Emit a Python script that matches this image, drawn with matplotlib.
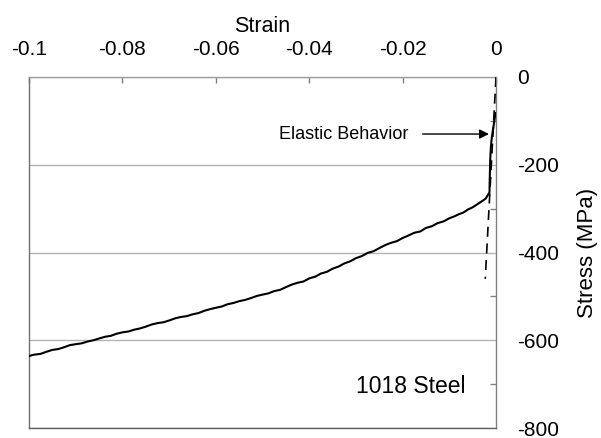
import matplotlib
matplotlib.use("Agg")
import matplotlib.pyplot as plt

plt.rcParams['font.family'] = ['Liberation Sans', 'DejaVu Sans']

strain = [-0.1000, -0.0990, -0.0975, -0.0962, -0.0950, -0.0937, -0.0925, -0.0912,
          -0.0900, -0.0887, -0.0875, -0.0862, -0.0850, -0.0837, -0.0825, -0.0812,
          -0.0800, -0.0787, -0.0775, -0.0762, -0.0750, -0.0737, -0.0725, -0.0712,
          -0.0700, -0.0687, -0.0675, -0.0662, -0.0650, -0.0637, -0.0625, -0.0612,
          -0.0600, -0.0587, -0.0575, -0.0562, -0.0550, -0.0537, -0.0525, -0.0512,
          -0.0500, -0.0487, -0.0475, -0.0462, -0.0450, -0.0437, -0.0425, -0.0412,
          -0.0400, -0.0387, -0.0375, -0.0362, -0.0350, -0.0337, -0.0325, -0.0312,
          -0.0300, -0.0287, -0.0275, -0.0262, -0.0250, -0.0237, -0.0225, -0.0212,
          -0.0200, -0.0187, -0.0175, -0.0162, -0.0150, -0.0137, -0.0125, -0.0112,
          -0.0100, -0.0090, -0.0080, -0.0070, -0.0060, -0.0050, -0.0040, -0.0030,
          -0.0022, -0.0014, -0.0013, -0.00125, -0.0011, -0.0009, -0.0005, -0.0001]
stress = [-636, -633, -631, -626, -622, -620, -616, -611,
          -609, -607, -603, -600, -596, -592, -590, -585,
          -582, -580, -576, -573, -569, -564, -561, -559,
          -555, -550, -547, -545, -541, -538, -533, -529,
          -526, -523, -518, -515, -511, -508, -504, -499,
          -496, -493, -488, -485, -479, -473, -469, -466,
          -459, -455, -448, -444, -437, -432, -425, -420,
          -413, -408, -401, -397, -390, -383, -378, -374,
          -367, -361, -355, -352, -344, -340, -333, -329,
          -322, -318, -313, -309, -302, -297, -290, -283,
          -277, -263, -215, -191, -160, -138, -110,
          -82]

# Elastic modulus line (200 GPa)
elastic_strain = [0.0, -0.0023]
elastic_stress = [0, -460]

x_ticks = [-0.1, -0.08, -0.06, -0.04, -0.02, 0]
x_tick_labels = ['-0.1', '-0.08', '-0.06', '-0.04', '-0.02', '0']
y_ticks = [0, -200, -400, -600, -800]
y_tick_labels = ['0', '-200', '-400', '-600', '-800']
y_minor = [-100, -300, -500, -700]

W, H = 601, 438
fig = plt.figure(figsize=(W / 100, H / 100), dpi=100)
L, R, T, B = 29, 496, 77, 428
ax = fig.add_axes([L / W, 1 - B / H, (R - L) / W, (B - T) / H])

ax.set_xlim(-0.1, 0)
ax.set_ylim(-800, 0)

ax.yaxis.grid(True, color='#b4b4b4', linewidth=1.0)
ax.set_axisbelow(True)

ax.plot(strain, stress, color='black', linewidth=1.5, zorder=3)
ax.plot(elastic_strain, elastic_stress, color='black', linewidth=1.2,
        dashes=(6, 4), zorder=3)

ax.xaxis.tick_top()
ax.xaxis.set_label_position('top')
ax.set_xticks(x_ticks)
ax.set_xticklabels(x_tick_labels)
ax.yaxis.tick_right()
ax.yaxis.set_label_position('right')
ax.set_yticks(y_ticks)
ax.set_yticklabels(y_tick_labels)
ax.set_yticks(y_minor, minor=True)

ax.tick_params(axis='x', which='major', direction='in', length=4, width=1,
               color='#808080', pad=13, labelsize=15)
ax.tick_params(axis='y', which='major', direction='in', length=0,
               pad=15, labelsize=15)
ax.tick_params(axis='y', which='minor', direction='in', length=4, width=1,
               color='#808080')

for side, sp in ax.spines.items():
    sp.set_color('#808080')
    sp.set_linewidth(1.0)
ax.spines['top'].set_color('#a0a0a0')
ax.spines['bottom'].set_color('#606060')
ax.spines['left'].set_color('#707070')

ax.set_xlabel('Strain', fontsize=15.5, labelpad=6)
ax.set_ylabel('Stress (MPa)', fontsize=16, labelpad=13)

ax.annotate('', xy=(-0.0015, -130), xytext=(-0.0157, -130),
            arrowprops=dict(arrowstyle='-|>', color='black', lw=1.0,
                            mutation_scale=14, shrinkA=0, shrinkB=0),
            zorder=4)
ax.text(-0.0188, -130, 'Elastic Behavior', ha='right', va='center', fontsize=13)
ax.text(-0.030, -705, '1018 Steel', ha='left', va='center', fontsize=16.5)

fig.savefig('out.png', dpi=100)
